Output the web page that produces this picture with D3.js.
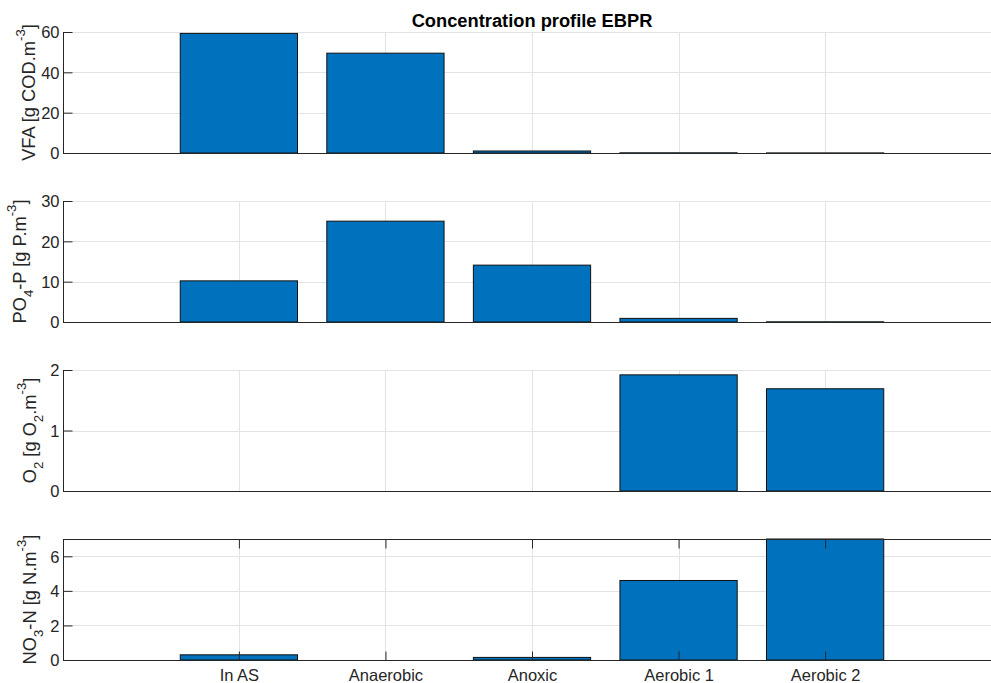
<!DOCTYPE html>
<html>
<head>
<meta charset="utf-8">
<script src="https://cdn.jsdelivr.net/npm/d3@7"></script>
<style>
  html, body { margin: 0; padding: 0; background: #fff; }
  svg { display: block; font-family: "Liberation Sans", Arial, Helvetica, sans-serif; }
</style>
</head>
<body>
<svg id="chart" width="991" height="683"></svg>
<script>
// Reactor zones along the activated sludge train
const categories = ["In AS", "Anaerobic", "Anoxic", "Aerobic 1", "Aerobic 2"];

// Concentrations per zone
const vfaValues = [59.3, 49.5, 1.0, 0.1, 0.05];   // g COD/m3
const po4Values = [10.2, 25.0, 14.1, 0.9, 0.05];  // g P/m3
const o2Values  = [0, 0, 0, 1.92, 1.69];          // g O2/m3
const no3Values = [0.3, 0, 0.15, 4.6, 7.0];       // g N/m3

// Y-axis ticks and limits per subplot
const vfaTicks = [0, 20, 40, 60];
const po4Ticks = [0, 10, 20, 30];
const o2Ticks  = [0, 1, 2];
const no3Ticks = [0, 2, 4, 6];
const yLimits  = [[0, 60], [0, 30], [0, 2], [0, 7]];

// Axis labels: [text, kind] where kind is "n" normal, "sub" or "sup"
const vfaLabel = [["VFA [g COD.m", "n"], ["-3", "sup"], ["]", "n"]];
const po4Label = [["PO", "n"], ["4", "sub"], ["-P [g P.m", "n"], ["-3", "sup"], ["]", "n"]];
const o2Label  = [["O", "n"], ["2", "sub"], [" [g O", "n"], ["2", "sub"], [".m", "n"], ["-3", "sup"], ["]", "n"]];
const no3Label = [["NO", "n"], ["3", "sub"], ["-N [g N.m", "n"], ["-3", "sup"], ["]", "n"]];

const chartTitle = "Concentration profile EBPR";

const panels = [
  { values: vfaValues, ticks: vfaTicks, ylim: yLimits[0], label: vfaLabel, top: 32,  labelX: 35, xLabels: false, box: false },
  { values: po4Values, ticks: po4Ticks, ylim: yLimits[1], label: po4Label, top: 201, labelX: 26, xLabels: false, box: false },
  { values: o2Values,  ticks: o2Ticks,  ylim: yLimits[2], label: o2Label,  top: 370, labelX: 36, xLabels: false, box: false },
  { values: no3Values, ticks: no3Ticks, ylim: yLimits[3], label: no3Label, top: 539, labelX: 36, xLabels: true,  box: true }
];

const svg = d3.select("#chart");
const plotLeft = 63, plotRight = 1001, panelH = 121;
const ink = "#262626", gridCol = "#e3e3e3", barCol = "#0072BD";
const fontFam = "Liberation Sans, Arial, sans-serif";
const tickFont = 16.5, labelFont = 18.3, tickLen = 9;

// Category positions 1..5 on a numeric axis from -0.2 to 6.2
const x = d3.scaleLinear().domain([-0.2, 6.2]).range([plotLeft, plotRight]);
const barW = x(0.8) - x(0);

panels.forEach(p => {
  const y = d3.scaleLinear().domain(p.ylim).range([p.top + panelH, p.top]);
  const g = svg.append("g");
  const bottom = p.top + panelH;

  // grid lines
  g.append("g").selectAll("line").data(p.ticks).join("line")
    .attr("x1", plotLeft).attr("x2", plotRight)
    .attr("y1", d => Math.round(y(d)) + 0.5).attr("y2", d => Math.round(y(d)) + 0.5)
    .attr("stroke", gridCol).attr("stroke-width", 1);
  g.append("g").selectAll("line").data(categories).join("line")
    .attr("x1", (d, i) => Math.round(x(i + 1)) + 0.5).attr("x2", (d, i) => Math.round(x(i + 1)) + 0.5)
    .attr("y1", p.top).attr("y2", bottom)
    .attr("stroke", gridCol).attr("stroke-width", 1);

  // bars
  g.append("g").selectAll("rect").data(p.values).join("rect")
    .attr("x", (d, i) => x(i + 1) - barW / 2)
    .attr("width", barW)
    .attr("y", d => y(Math.min(d, p.ylim[1])))
    .attr("height", d => Math.max(0, bottom - y(Math.min(d, p.ylim[1]))))
    .attr("fill", barCol)
    .attr("stroke", "#111")
    .attr("stroke-width", 1);

  // y axis (ticks pointing inward)
  const yAxis = d3.axisLeft(y).tickValues(p.ticks).tickSize(-tickLen).tickPadding(4).tickFormat(d3.format("d"));
  const ya = g.append("g").attr("transform", `translate(${plotLeft + 0.5},0)`).call(yAxis);
  ya.select(".domain").attr("stroke", ink).attr("d", `M0,${p.top}V${bottom}`);
  ya.selectAll(".tick line").attr("stroke", ink);
  ya.selectAll(".tick text").attr("fill", ink).attr("font-size", tickFont)
    .attr("font-family", fontFam).attr("dy", "0.36em");

  // x axis line, with category labels on the bottom subplot
  const xAxis = d3.axisBottom(x).tickValues(p.xLabels ? [1, 2, 3, 4, 5] : [])
    .tickSize(p.xLabels ? -tickLen : 0).tickPadding(9)
    .tickFormat(d => categories[d - 1]);
  const xa = g.append("g").attr("transform", `translate(0,${Math.round(bottom) + 0.5})`).call(xAxis);
  xa.select(".domain").attr("stroke", ink).attr("d", `M${plotLeft},0H${plotRight}`);
  xa.selectAll(".tick line").attr("stroke", ink);
  xa.selectAll(".tick text").attr("fill", ink).attr("font-size", tickFont)
    .attr("font-family", fontFam);

  if (p.box) {
    const xTop = d3.axisTop(x).tickValues([1, 2, 3, 4, 5]).tickSize(-tickLen).tickFormat("");
    const xt = g.append("g").attr("transform", `translate(0,${p.top + 0.5})`).call(xTop);
    xt.select(".domain").attr("stroke", ink).attr("d", `M${plotLeft},0H${plotRight}`);
    xt.selectAll(".tick line").attr("stroke", ink);
  }

  // rotated y label with sub/superscripts
  const lab = g.append("text")
    .attr("transform", `translate(${p.labelX},${p.top + panelH / 2}) rotate(-90)`)
    .attr("text-anchor", "middle")
    .attr("fill", ink)
    .attr("font-family", fontFam)
    .attr("font-size", labelFont);
  let shift = 0;
  p.label.forEach(([txt, kind]) => {
    const target = kind === "sup" ? -0.55 * labelFont : kind === "sub" ? 0.38 * labelFont : 0;
    lab.append("tspan")
      .attr("dy", target - shift)
      .attr("font-size", kind === "n" ? labelFont : labelFont * 0.72)
      .text(txt);
    shift = target;
  });
});

// title
svg.append("text")
  .attr("x", x(3)).attr("y", 26.5)
  .attr("text-anchor", "middle")
  .attr("font-family", fontFam)
  .attr("font-weight", "bold")
  .attr("font-size", 18.3)
  .attr("fill", "#000")
  .text(chartTitle);
</script>
</body>
</html>
